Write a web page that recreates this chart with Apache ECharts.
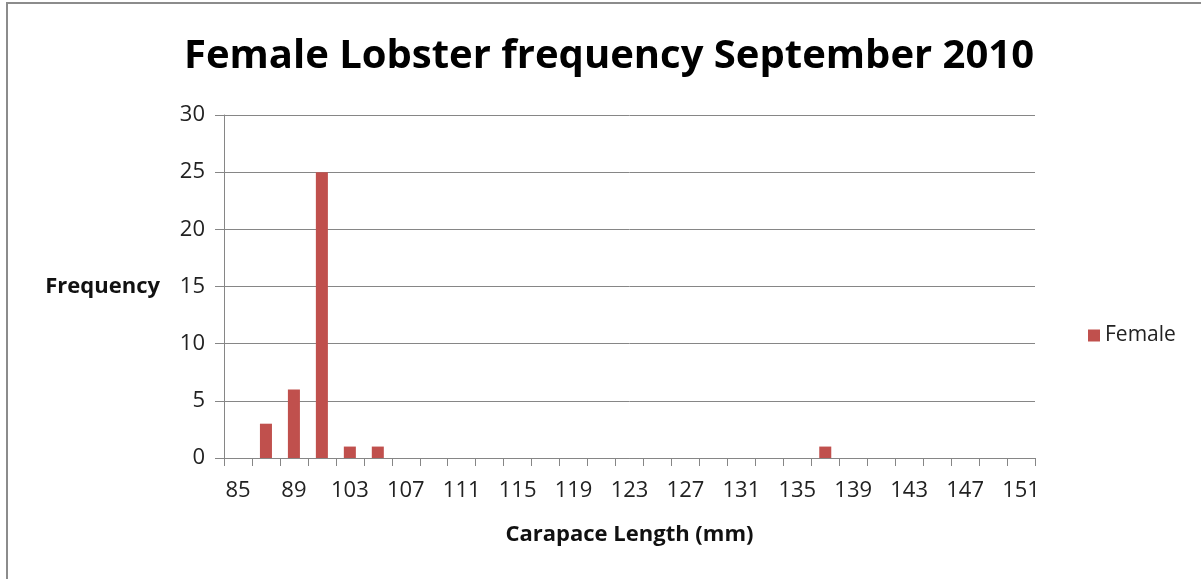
<!DOCTYPE html>
<html>
<head>
<meta charset="utf-8">
<script src="https://cdn.jsdelivr.net/npm/echarts@6/dist/echarts.min.js"></script>
<style>
html,body{margin:0;padding:0;background:#fff;}
#chart{position:absolute;left:0;top:0;width:1201px;height:579px;}
#frame{position:absolute;left:6px;top:2px;width:1195px;height:577px;border-top:2px solid #8c8c8c;border-left:2px solid #8c8c8c;pointer-events:none;box-sizing:border-box;}
</style>
</head>
<body>
<div id="chart"></div>
<div id="frame"></div>
<script>
const categories = ['85','87','89','101','103','105','107','109','111','113','115','117','119','121','123','125','127','129','131','133','135','137','139','141','143','145','147','149','151'];
const femaleValues = [0,3,6,25,1,1,0,0,0,0,0,0,0,0,0,0,0,0,0,0,0,1,0,0,0,0,0,0,0];
const yTicks = {min:0, max:30, interval:5};

const chart = echarts.init(document.getElementById('chart'));
const font = 'Open Sans, Noto Sans, sans-serif';
chart.setOption({
  animation:false,
  backgroundColor:'#ffffff',
  title:{
    text:'Female Lobster frequency September 2010',
    left:604, top:32, textAlign:'center',
    textStyle:{fontFamily:font, fontWeight:'bold', fontSize:40, color:'#000'}
  },
  legend:{
    data:['Female'], left:1083, top:320, itemWidth:12, itemHeight:12, itemGap:8,
    icon:'rect',
    textStyle:{fontFamily:font, fontSize:21, color:'#222'}
  },
  grid:{left:224, right:166, top:115, bottom:121, containLabel:false, outerBoundsMode:'none'},
  xAxis:{
    type:'category', data:categories,
    name:'Carapace Length (mm)', nameLocation:'middle', nameGap:66,
    nameTextStyle:{fontFamily:font, fontWeight:'bold', fontSize:22, color:'#111'},
    axisLine:{lineStyle:{color:'#868686', width:1}},
    axisTick:{show:true, interval:0, alignWithLabel:false, length:8, lineStyle:{color:'#868686'}},
    axisLabel:{interval:1, fontFamily:font, fontSize:22, color:'#222', margin:22}
  },
  yAxis:{
    type:'value', min:yTicks.min, max:yTicks.max, interval:yTicks.interval,
    name:'Frequency', nameLocation:'middle', nameRotate:0, nameGap:64,
    nameTextStyle:{fontFamily:font, fontWeight:'bold', fontSize:22, color:'#111'},
    axisLine:{show:true, lineStyle:{color:'#868686', width:1}},
    axisTick:{show:true, length:9, lineStyle:{color:'#868686'}},
    axisLabel:{fontFamily:font, fontSize:22, color:'#222', margin:19},
    splitLine:{lineStyle:{color:'#868686', width:1}}
  },
  series:[{
    name:'Female', type:'bar', data:femaleValues,
    barCategoryGap:'57%',
    itemStyle:{color:'#C0504D'}
  }]
});
</script>
</body>
</html>
